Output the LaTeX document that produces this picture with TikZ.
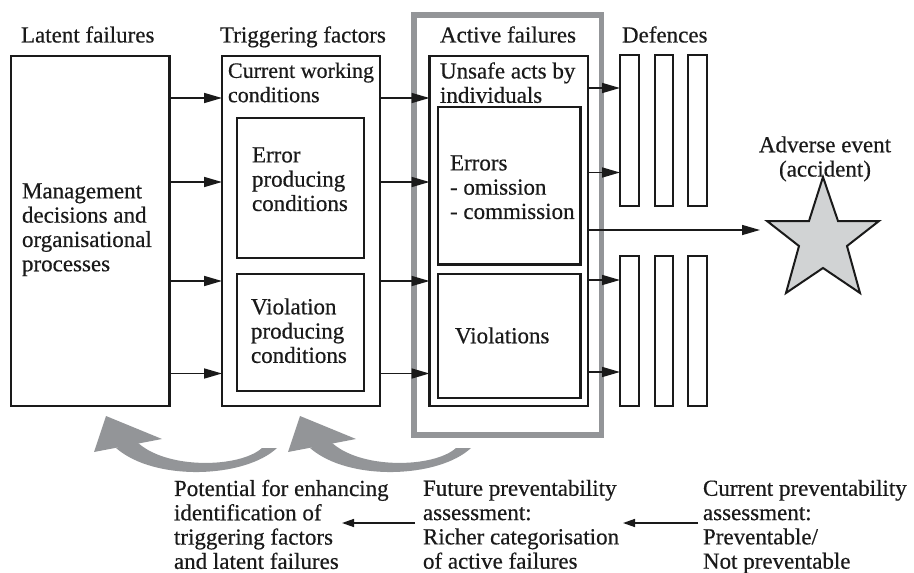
\documentclass[tikz,border=0pt]{standalone}
\usepackage{fontspec}
\setmainfont{Liberation Serif}[FakeBold=0.5]
\usetikzlibrary{arrows.meta}
\definecolor{ink}{HTML}{1A1A1A}
\definecolor{bandgrey}{HTML}{939598}
\definecolor{stargrey}{HTML}{D1D3D4}

\begin{document}
\begin{tikzpicture}[x=1pt,y=-1pt,
  every node/.style={font=\fontsize{23}{24.3}\selectfont, text=ink},
  box/.style={draw=ink, line width=2.3pt, outer sep=0pt, inner sep=0pt, anchor=north west},
  bar/.style={draw=ink, line width=2pt, outer sep=0pt, inner sep=0pt, anchor=north west},
  txt/.style={inner sep=0pt, outer sep=0pt, anchor=north west, align=left},
  arr/.style={draw=ink, line width=1.7pt, -{Triangle[length=18pt,width=10pt]}},
  thinarr/.style={draw=ink, line width=1.4pt, -{Triangle[length=12pt,width=8pt]}},
  feedback/.style={fill=bandgrey}
]
\useasboundingbox (0,0) rectangle (914,573);

% column headings
\node[txt] (hlat) at (21,26.3) {Latent failures};
\node[txt] (htrig) at (220,26.3) {Triggering factors};
\node[txt] (hact) at (440,26.3) {Active failures};
\node[txt] (hdef) at (622,26.3) {Defences};

% frame around the active failures column
\node[draw=bandgrey, line width=5.5pt, outer sep=0pt, inner sep=0pt, anchor=north west,
      minimum width=187.5pt, minimum height=420pt] (actframe) at (414,15) {};

% latent failures
\node[box, minimum width=158.5pt, minimum height=350pt] (lat) at (11,56) {};
\node[txt] (tlat) at (22,183.3) {Management\\decisions and\\organisational\\processes};

% triggering factors
\node[box, minimum width=158pt, minimum height=350pt] (trig) at (222,56) {};
\node[txt, font=\fontsize{22}{24.3}\selectfont] (ttrig) at (228,62.6) {Current working\\conditions};
\node[box, minimum width=127pt, minimum height=140pt] (epc) at (237,118) {};
\node[txt] (tepc) at (252,147.3) {Error\\producing\\conditions};
\node[box, minimum width=127pt, minimum height=117pt] (vpc) at (237,274) {};
\node[txt] (tvpc) at (251,298.3) {Violation\\producing\\conditions};

% active failures
\node[box, minimum width=158.5pt, minimum height=350pt] (unsafe) at (429.5,56) {};
\node[txt] (tunsafe) at (440,62.3) {Unsafe acts by\\individuals};
\node[box, minimum width=142.5pt, minimum height=157.5pt] (err) at (438,107) {};
\node[txt] (terr) at (450,155.3) {Errors\\- omission\\- commission};
\node[box, minimum width=142.5pt, minimum height=124pt] (viol) at (438,274) {};
\node[txt] (tviol) at (455,327.3) {Violations};

% defences
\node[bar, minimum width=19pt, minimum height=151pt] (d1) at (620,55) {};
\node[bar, minimum width=18pt, minimum height=151pt] (d2) at (655,55) {};
\node[bar, minimum width=19pt, minimum height=151pt] (d3) at (688,55) {};
\node[bar, minimum width=19pt, minimum height=150pt] (d4) at (620,256) {};
\node[bar, minimum width=18pt, minimum height=150pt] (d5) at (655,256) {};
\node[bar, minimum width=19pt, minimum height=150pt] (d6) at (688,256) {};

% adverse event
\node[inner sep=0pt, outer sep=0pt, anchor=north, align=center] (tevt) at (825,136.3) {Adverse event\\(accident)};
\draw[draw=ink, fill=stargrey, line width=2pt, line join=miter]
  (823,177) -- (838,221) -- (879,221) -- (847,246) -- (860,293) -- (823,268)
  -- (786,293) -- (799,246) -- (767,221) -- (809,221) -- cycle;
\coordinate (evt) at (760,230);

% rows of the causal arrows
\coordinate (r1) at (0,98);
\coordinate (r2) at (0,182);
\coordinate (r3) at (0,281);
\coordinate (r4) at (0,373.5);
\coordinate (s1) at (0,88);
\coordinate (s2) at (0,172.5);
\coordinate (s3) at (0,280);
\coordinate (s4) at (0,372);

\foreach \r in {r1,r2,r3,r4}{
  \draw[arr] (lat.east |- \r) -- (trig.west |- \r);
  \draw[arr] (trig.east |- \r) -- (unsafe.west |- \r);
}
\draw[arr] (unsafe.east |- s1) -- (d1.west |- s1);
\draw[arr] (unsafe.east |- s2) -- (d1.west |- s2);
\draw[arr] (unsafe.east |- s3) -- (d4.west |- s3);
\draw[arr] (unsafe.east |- s4) -- (d4.west |- s4);
\draw[arr, line width=1.5pt] (unsafe.east |- evt) -- (evt);

% feedback arrows
\foreach \dx in {0,194}{
  \begin{scope}[xshift=\dx pt]
    \fill[feedback] (116,448) .. controls (155,482) and (245,478) .. (277,448)
      -- (262,448) .. controls (240,468) and (165,470) .. (136,441) -- cycle;
    \fill[feedback] (94,452) -- (106,416) -- (162,439) -- cycle;
  \end{scope}
}

% preventability assessments
\node[txt] (tpot) at (174,479.8) {Potential for enhancing\\identification of\\triggering factors\\and latent failures};
\node[txt] (tfut) at (423,479.8) {Future preventability\\assessment:\\Richer categorisation\\of active failures};
\node[txt] (tcur) at (703,479.8) {Current preventability\\assessment:\\Preventable/\\Not preventable};
\coordinate (p1) at (342,523);
\coordinate (p2) at (623,523);
\draw[thinarr, shorten <=8pt] (tfut.west |- p1) -- (p1);
\draw[thinarr, shorten <=5pt] (tcur.west |- p2) -- (p2);
\end{tikzpicture}
\end{document}
